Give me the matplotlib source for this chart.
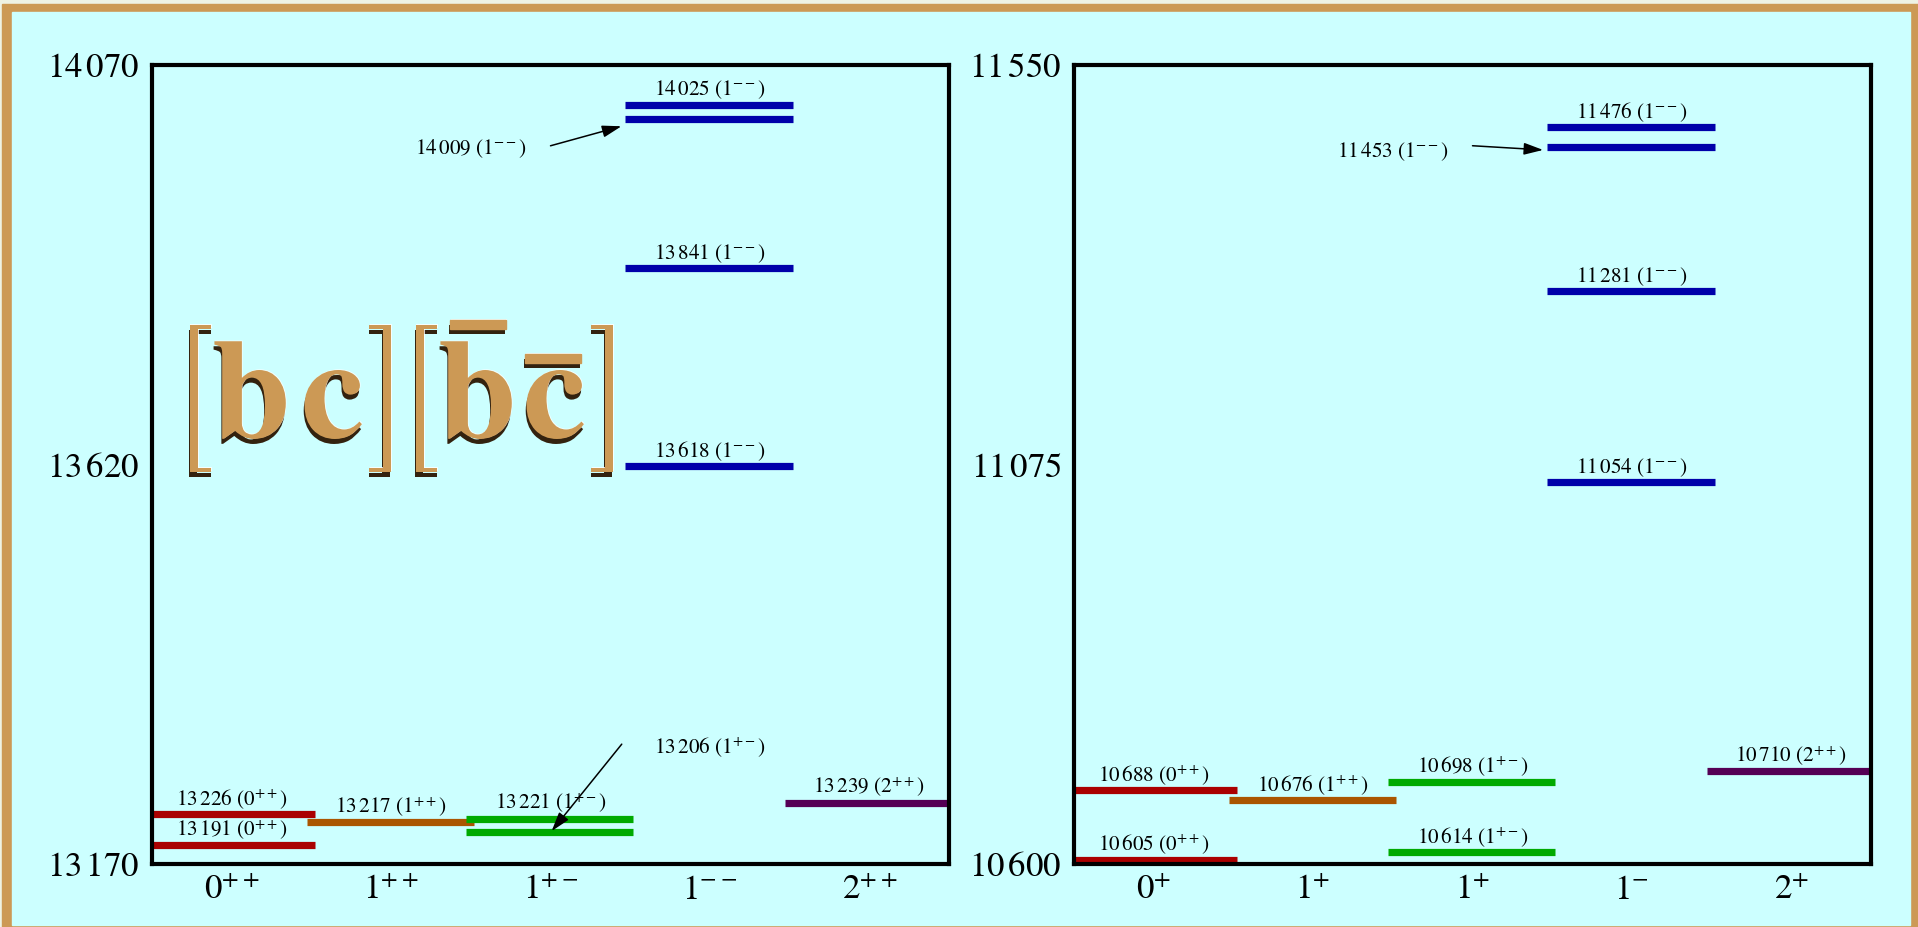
import matplotlib
matplotlib.use("Agg")
import matplotlib.pyplot as plt
import matplotlib.patheffects as pe
from matplotlib.patches import Rectangle

plt.rcParams['font.family'] = ['STIXGeneral', 'DejaVu Serif']
plt.rcParams['mathtext.fontset'] = 'stix'

# tetraquark levels, MeV; slot = J^PC column the level sits in
heavy_cats = ['0^{++}', '1^{++}', '1^{+-}', '1^{--}', '2^{++}']
heavy_mass = [13226, 13191, 13217, 13221, 13206, 14025, 14009, 13841, 13618, 13239]
heavy_slot = [0, 0, 1, 2, 2, 3, 3, 3, 3, 4]
heavy_ticks = [13170, 13620, 14070]

light_cats = ['0^{+}', '1^{+}', '1^{+}', '1^{-}', '2^{+}']
light_tags = ['0^{++}', '1^{++}', '1^{+-}', '1^{--}', '2^{++}']
light_mass = [10688, 10605, 10676, 10698, 10614, 11476, 11453, 11281, 11054, 10710]
light_slot = [0, 0, 1, 2, 2, 3, 3, 3, 3, 4]
light_ticks = [10600, 11075, 11550]

# levels labelled off to the side: arrow tail, arrow tip, label centre
heavy_arrows = {14009: ((2.50, 13979), (2.945, 14001), (2.0, 13976)),
                13206: ((2.947, 13305), (2.507, 13207), (3.5, 13302))}
light_arrows = {11453: ((2.50, 11454), (2.943, 11449), (2.0, 11447))}

slot_colors = ['#AA0000', '#AA5500', '#00AA00', '#0000AA', '#550055']
bg = '#CCFFFF'
tan = '#CC9955'
W, H = 1918, 927


def mev(m):
    return r'$%d\,%03d$' % (m // 1000, m % 1000)


def level_label(m, tag):
    return r'$%d\,%03d\ (%s)$' % (m // 1000, m % 1000, tag)


fig = plt.figure(figsize=(W / 100, H / 100), dpi=100, facecolor='#EEF2E4')
fig.patches.append(Rectangle((2 / W, 0), 1916 / W, 923 / H,
                             transform=fig.transFigure, color=tan, zorder=-2))
fig.patches.append(Rectangle((12 / W, 2 / H), 1898 / W, 913 / H,
                             transform=fig.transFigure, color=bg, zorder=-1))

ax1 = fig.add_axes([152 / W, 63 / H, 797 / W, 799 / H])
ax2 = fig.add_axes([1074 / W, 63 / H, 797 / W, 799 / H])


def draw_panel(ax, cats, tags, mass, slot, ticks, arrows):
    ax.set_facecolor(bg)
    ax.set_xlim(0, 5)
    ax.set_ylim(ticks[0], ticks[-1])
    for s in ax.spines.values():
        s.set_linewidth(3)
    ax.set_yticks(ticks)
    ax.set_yticklabels([mev(t) for t in ticks], fontsize=25)
    ax.set_xticks([i + 0.5 for i in range(5)])
    ax.set_xticklabels(['$%s$' % c for c in cats], fontsize=25)
    ax.tick_params(length=0)
    ax.tick_params(axis='y', pad=9)
    ax.tick_params(axis='x', pad=8)

    for m, k in zip(mass, slot):
        ax.hlines(m, k - 0.03, k + 1.02, colors=slot_colors[k], lw=5.2,
                  zorder=2)
        label = level_label(m, tags[k])
        if m in arrows:
            tail, tip, pos = arrows[m]
            ax.annotate('', xy=tip, xytext=tail,
                        arrowprops=dict(arrowstyle='-|>,head_length=0.45,head_width=0.14',
                                        color='k', lw=1.1, mutation_scale=26,
                                        shrinkA=0, shrinkB=0), zorder=4)
            ax.text(pos[0], pos[1], label, ha='center', va='center',
                    fontsize=15.2)
        else:
            ax.annotate(label, xy=(k + 0.5, m), xytext=(0, 2.5),
                        textcoords='offset points', ha='center', va='bottom',
                        fontsize=15.2)


draw_panel(ax1, heavy_cats, heavy_cats, heavy_mass, heavy_slot, heavy_ticks,
           heavy_arrows)
draw_panel(ax2, light_cats, light_tags, light_mass, light_slot, light_ticks,
           light_arrows)

# quark content badge [bc][b̄c̄], laid out in pixels from the top-left corner
badge_fx = [pe.SimplePatchShadow(offset=(-0.6, -3.6), shadow_rgbFace='#33220F',
                                 alpha=1),
            pe.SimplePatchShadow(offset=(0.5, 0.5), shadow_rgbFace='white',
                                 alpha=0.8),
            pe.Normal()]


def px(x, y):
    return x / W, (H - y) / H


for x, ch in ((168, '['), (367, ']'), (394, '['), (589, ']')):
    fig.text(*px(x, 326), ch, fontsize=86, family='STIXSizeOneSym',
             color=tan, ha='left', va='top', path_effects=badge_fx)
for x, ch in ((212, 'b'), (301, 'c'), (438, 'b'), (523, 'c')):
    fig.text(*px(x, 437), ch, fontsize=102, family='STIXGeneral',
             weight='bold', color=tan, ha='left', va='baseline',
             path_effects=badge_fx)
for x0, x1, y in ((450, 506, 320), (525, 581, 354)):
    fig.patches.append(Rectangle(px(x0, y + 9), (x1 - x0) / W, 9 / H,
                                 transform=fig.transFigure, color=tan,
                                 path_effects=badge_fx))

fig.savefig('out.png', dpi=100, facecolor=fig.get_facecolor())
